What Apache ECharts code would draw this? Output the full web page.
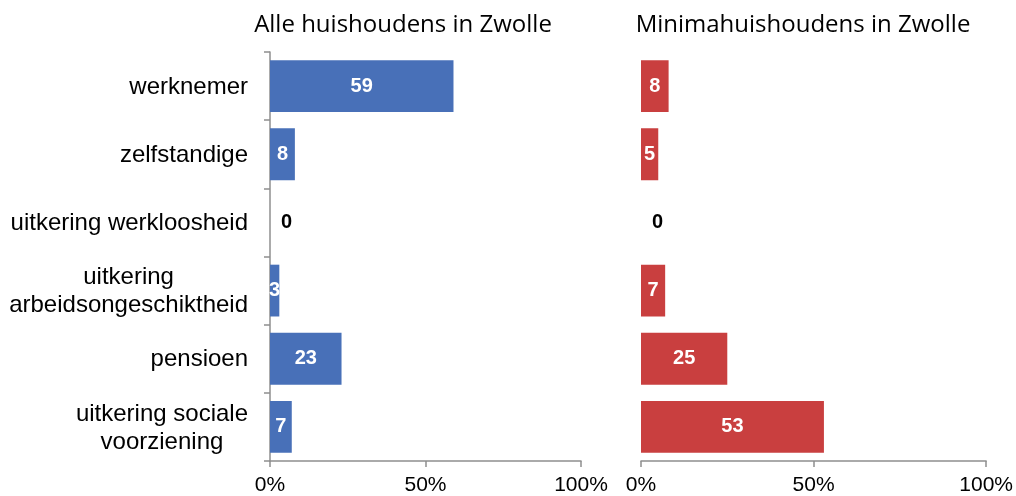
<!DOCTYPE html>
<html>
<head>
<meta charset="utf-8">
<script src="https://cdn.jsdelivr.net/npm/echarts@6/dist/echarts.min.js"></script>
<style>
html,body{margin:0;padding:0;background:#fff;}
#c{width:1016px;height:496px;}
</style>
</head>
<body>
<div id="c"></div>
<script>
const categories = ['werknemer', 'zelfstandige', 'uitkering werkloosheid', 'uitkering\narbeidsongeschiktheid', 'pensioen', 'uitkering sociale\nvoorziening'];
const alleValues = [59, 8, 0, 3, 23, 7];
const minimaValues = [8, 5, 0, 7, 25, 53];
const titles = ['Alle huishoudens in Zwolle', 'Minimahuishoudens in Zwolle'];
const xTicks = [0, 50, 100];

const chart = echarts.init(document.getElementById('c'));
const axisCol = '#8f8f8f';
const catFont = 'Liberation Sans, Arial, sans-serif';
const titleFont = 'Open Sans, sans-serif';

function xAxis(gi) {
  return {
    type: 'value', gridIndex: gi, min: 0, max: 100, interval: 50,
    axisLine: {show: true, lineStyle: {color: axisCol, width: 1.5}},
    axisTick: {show: true, length: 6, lineStyle: {color: axisCol, width: 1.5}},
    splitLine: {show: false},
    axisLabel: {
      color: '#000', fontSize: 21, fontFamily: catFont, margin: 14,
      formatter: v => xTicks.includes(v) ? v + '%' : ''
    }
  };
}

function series(gi, data, color) {
  return {
    type: 'bar', xAxisIndex: gi, yAxisIndex: gi,
    data: data.map(v => ({
      value: v,
      label: v === 0
        ? {position: 'right', distance: 11, color: '#000'}
        : {position: 'inside', color: '#fff'}
    })),
    barWidth: '76%',
    itemStyle: {color: color},
    label: {show: true, fontSize: 20, fontWeight: 'bold', fontFamily: catFont},
    silent: true
  };
}

chart.setOption({
  animation: false,
  title: [
    {text: titles[0], left: 398, top: 8, textAlign: 'center',
     textStyle: {fontSize: 24, fontWeight: 'normal', color: '#000', fontFamily: titleFont}},
    {text: titles[1], left: 798, top: 8, textAlign: 'center',
     textStyle: {fontSize: 24, fontWeight: 'normal', color: '#000', fontFamily: titleFont}}
  ],
  grid: [
    {left: 270, width: 311, top: 52, bottom: 35, containLabel: false},
    {left: 641, width: 346, top: 52, bottom: 35, containLabel: false}
  ],
  xAxis: [xAxis(0), xAxis(1)],
  yAxis: [
    {
      type: 'category', gridIndex: 0, data: categories, inverse: true,
      axisLine: {show: true, lineStyle: {color: axisCol, width: 1.5}},
      axisTick: {show: true, length: 6, lineStyle: {color: axisCol, width: 1.5}},
      axisLabel: {
        margin: 22, color: '#000', fontSize: 24, fontFamily: catFont,
        formatter: v => v.split('\n').map(s => '{c|' + s + '}').join('\n'),
        rich: {c: {align: 'center', fontSize: 24, fontFamily: catFont, color: '#000', lineHeight: 28, padding: [2, 0, 0, 0]}}
      }
    },
    {
      type: 'category', gridIndex: 1, data: categories, inverse: true,
      axisLine: {show: false}, axisTick: {show: false}, axisLabel: {show: false}
    }
  ],
  series: [
    series(0, alleValues, '#4870B8'),
    series(1, minimaValues, '#C93F3F')
  ]
});
</script>
</body>
</html>
